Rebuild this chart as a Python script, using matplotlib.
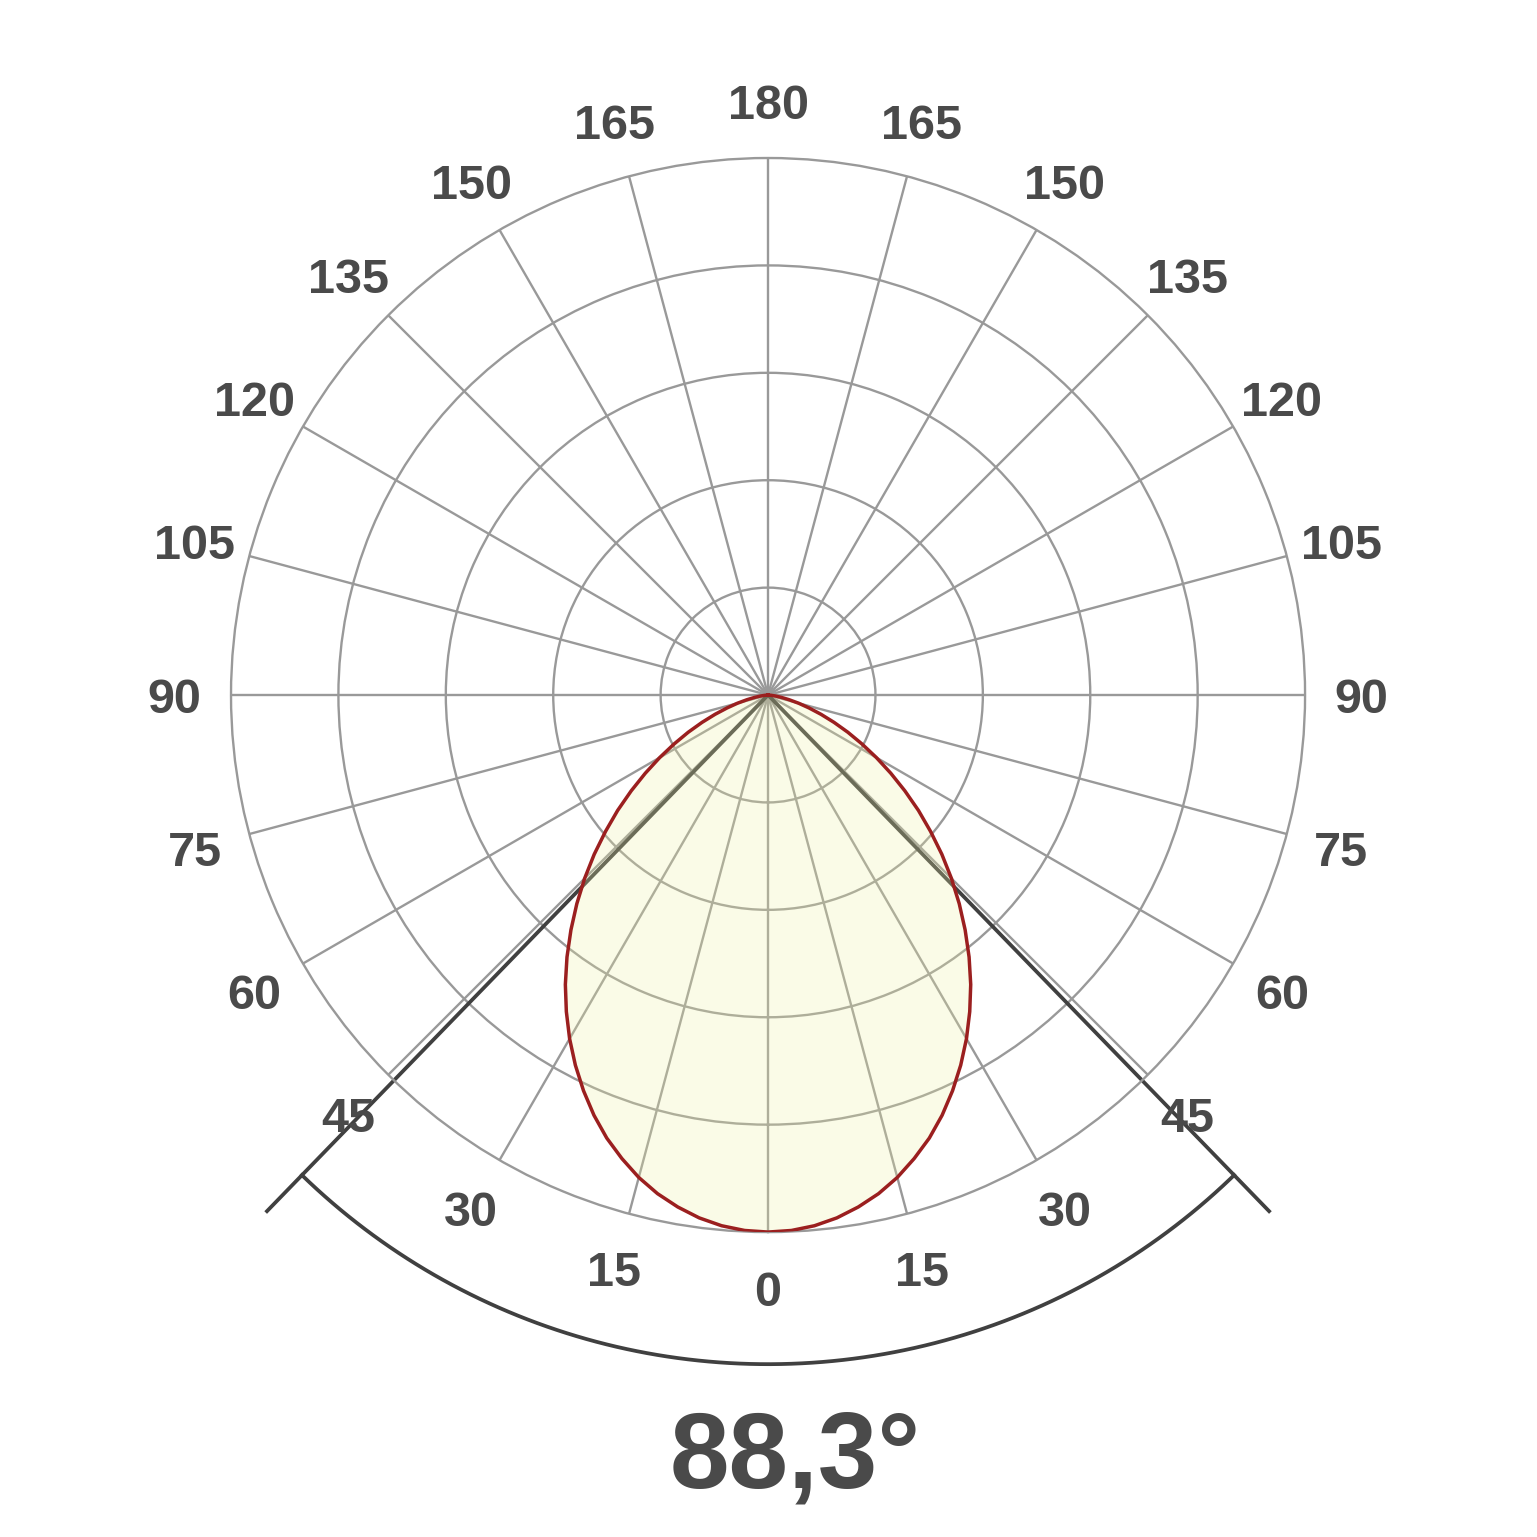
import numpy as np
import matplotlib
matplotlib.use("Agg")
import matplotlib.pyplot as plt

# luminous intensity, relative to max (symmetric curve)
angles = [0, 2.5, 5, 7.5, 10, 12.5, 15, 17.5, 20, 22.5, 25, 27.5, 30, 32.5, 35,
          37.5, 40, 42.5, 45, 47.5, 50, 52.5, 55, 57.5, 60, 62.5, 65, 67.5, 70,
          72.5, 75, 77.5, 80, 82.5, 85, 87.5, 90]
intensity = [1.0, 0.998, 0.992, 0.982, 0.968, 0.951, 0.93, 0.905, 0.878, 0.847,
             0.813, 0.777, 0.739, 0.699, 0.658, 0.615, 0.571, 0.527, 0.483,
             0.439, 0.395, 0.353, 0.311, 0.271, 0.233, 0.197, 0.164, 0.133,
             0.105, 0.08, 0.059, 0.04, 0.025, 0.014, 0.006, 0.0014, 0.0]
tick_angles = list(range(0, 360, 15))
ring_values = [0.2, 0.4, 0.6, 0.8, 1.0]
beam_angle = 88.3

TXT = "#4a4a4a"
GRID = "#999999"

fig = plt.figure(figsize=(15.37, 15.37), dpi=100)
ax = fig.add_axes([0.1503, 0.1984, 0.6988, 0.6988], projection="polar")
ax.set_theta_zero_location("S")
ax.set_theta_direction(1)
ax.set_ylim(0, 1)

ax.set_xticks(np.radians(tick_angles))
ax.set_xticklabels([])
ax.set_yticks(ring_values[:-1])
ax.set_yticklabels([])
ax.grid(True, color=GRID, linewidth=1.7)
ax.spines["polar"].set_color(GRID)
ax.spines["polar"].set_linewidth(1.7)
ax.tick_params(length=0)

# angle labels round the outside
for a in tick_angles:
    lab = a if a <= 180 else 360 - a
    ax.text(np.radians(a), 1.105, str(lab), ha="center", va="center_baseline",
            fontsize=35, fontweight="bold", color=TXT, family="Liberation Sans",
            clip_on=False)

# mirror the curve to both sides
th = np.radians(np.array([-a for a in angles[::-1]] + angles[1:]))
rr = np.array(intensity[::-1] + intensity[1:])

# beam angle lines and arc
half = np.radians(beam_angle / 2)
for s in (-1, 1):
    ax.plot([0, s * half], [0, 1.343], color="#404040", lw=2.7, zorder=2.5,
            clip_on=False, solid_capstyle="butt")
arc_t = np.linspace(-half, half, 200)
ax.plot(arc_t, np.full_like(arc_t, 1.246), color="#404040", lw=2.7,
        zorder=2.5, clip_on=False)

ax.fill(th, rr, color="#eef0a0", alpha=0.25, zorder=3, lw=0)
ax.plot(th, rr, color="#9b1f1f", lw=2.5, zorder=4)

fig.text(795 / 1537, 1 - 1488 / 1537, f"{beam_angle:.1f}".replace(".", ",") + "°",
         ha="center", va="baseline", fontsize=77, fontweight="bold", color=TXT,
         family="Liberation Sans")

fig.savefig("out.png", dpi=100, facecolor="white")
